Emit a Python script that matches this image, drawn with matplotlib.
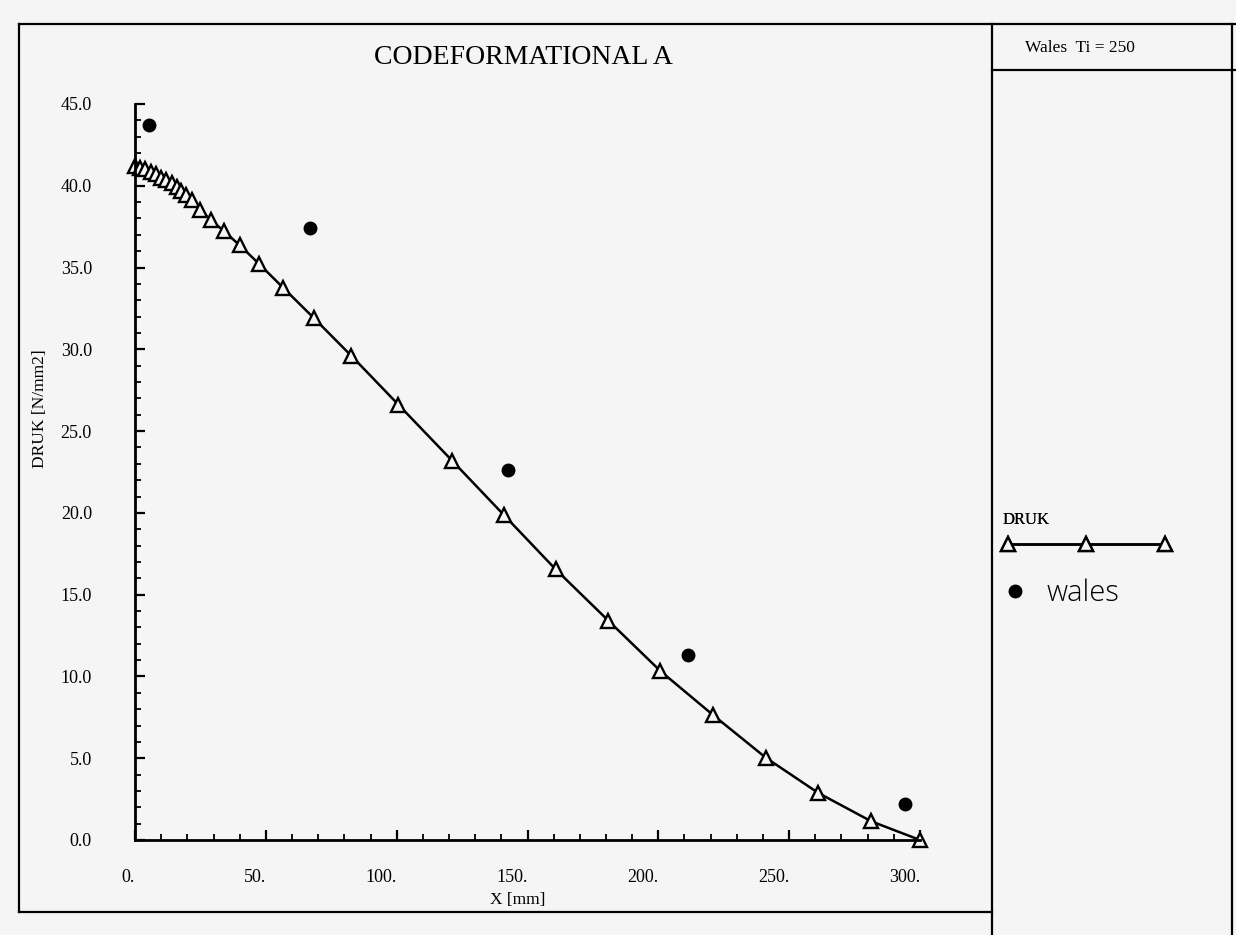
import matplotlib.pyplot as plt
from matplotlib.lines import Line2D

# DRUK curve (simulation) and Wales measurements
x_druk = [0, 2, 4, 6, 8, 10, 12, 14, 16, 17.5, 19.3, 21.7, 24.9, 29.1, 33.9,
          40.1, 47.5, 56.6, 68.3, 82.7, 100.7, 121.2, 141.1, 160.8, 180.9,
          200.8, 221.0, 241.1, 261.1, 281.4, 300]
y_druk = [41.2, 41.1, 41.0, 40.85, 40.7, 40.5, 40.35, 40.15, 39.95, 39.7, 39.45,
          39.1, 38.5, 37.9, 37.24, 36.35, 35.21, 33.77, 31.92, 29.6, 26.61,
          23.19, 19.85, 16.54, 13.41, 10.33, 7.63, 5.03, 2.88, 1.14, 0.0]
x_wales = [5.5, 66.7, 142.7, 211.4, 294.2]
y_wales = [43.7, 37.4, 22.6, 11.3, 2.2]

x_ticks = [0, 50, 100, 150, 200, 250, 300]
x_ticklabels = ['0.', '50.', '100.', '150.', '200.', '250.', '300.']
y_ticks = [0, 5, 10, 15, 20, 25, 30, 35, 40, 45]
y_ticklabels = ['%.1f' % v for v in y_ticks]

W, H = 1236, 935
bg = '#f5f5f5'
serif = 'Liberation Serif'

fig = plt.figure(figsize=(W / 100, H / 100), dpi=100, facecolor=bg)


def frame_line(x0, y0, x1, y1):
    fig.add_artist(Line2D([x0 / W, x1 / W], [1 - y0 / H, 1 - y1 / H],
                          transform=fig.transFigure, color='black', lw=1.6))


# page frame and side panel
frame_line(19, 24, 1236, 24)
frame_line(19, 24, 19, 912)
frame_line(19, 912, 992, 912)
frame_line(992, 24, 992, 935)
frame_line(992, 70, 1236, 70)
frame_line(1232, 24, 1232, 935)

ax = fig.add_axes([135 / W, 1 - 840 / H, 785 / W, 736 / H])
ax.set_facecolor(bg)
for s in ['top', 'right']:
    ax.spines[s].set_visible(False)
for s in ['left', 'bottom']:
    ax.spines[s].set_linewidth(2.0)

druk, = ax.plot(x_druk, y_druk, color='black', lw=1.8, marker='^', ms=10,
                mfc=bg, mec='black', mew=1.7, clip_on=False)
wales, = ax.plot(x_wales, y_wales, 'o', color='black', ms=9, clip_on=False)

ax.set_xlim(0, 300)
ax.set_ylim(0, 45)
ax.set_xticks(x_ticks)
ax.set_xticklabels(x_ticklabels, fontfamily=serif, fontsize=13, ha='right')
ax.set_xticks(range(0, 301, 10), minor=True)
ax.set_yticks(y_ticks)
ax.set_yticklabels(y_ticklabels, fontfamily=serif, fontsize=13)
ax.set_yticks(range(0, 46), minor=True)
ax.tick_params(which='major', direction='in', length=7.5, width=1.6)
ax.tick_params(which='minor', direction='in', length=4, width=1.3)
ax.tick_params(axis='y', pad=31)
ax.tick_params(axis='x', pad=21)

ax.set_xlabel('X [mm]', fontfamily=serif, fontsize=12.5)
ax.set_ylabel('DRUK [N/mm2]', fontfamily=serif, fontsize=12.5)
ax.xaxis.set_label_coords(0.487, -0.07)
ax.yaxis.set_label_coords(-0.111, 0.586)

fig.text(523 / W, 1 - 58 / H, 'CODEFORMATIONAL A', fontfamily=serif,
         fontsize=20, ha='center', va='center')
fig.text(1025 / W, 1 - 48 / H, 'Wales  Ti = 250', fontfamily=serif,
         fontsize=12.5, ha='left', va='center')

leg1 = fig.legend(handles=[druk], labels=[''], title='DRUK', loc='upper left',
                  bbox_to_anchor=(1003 / W, 1 - 512 / H), numpoints=3,
                  handlelength=10.0, frameon=False, borderpad=0,
                  borderaxespad=0, fontsize=12, alignment='left',
                  title_fontproperties={'family': serif, 'size': 12})
fig.add_artist(leg1)
fig.legend(handles=[wales], labels=['wales'], loc='center left',
           bbox_to_anchor=(1003 / W, 1 - 593 / H), numpoints=1,
           handlelength=0.8, handletextpad=0.7, frameon=False, borderpad=0,
           borderaxespad=0, prop={'family': 'Open Sans', 'size': 21,
                                  'weight': 'light'})

fig.savefig('out.png', dpi=100, facecolor=bg)
